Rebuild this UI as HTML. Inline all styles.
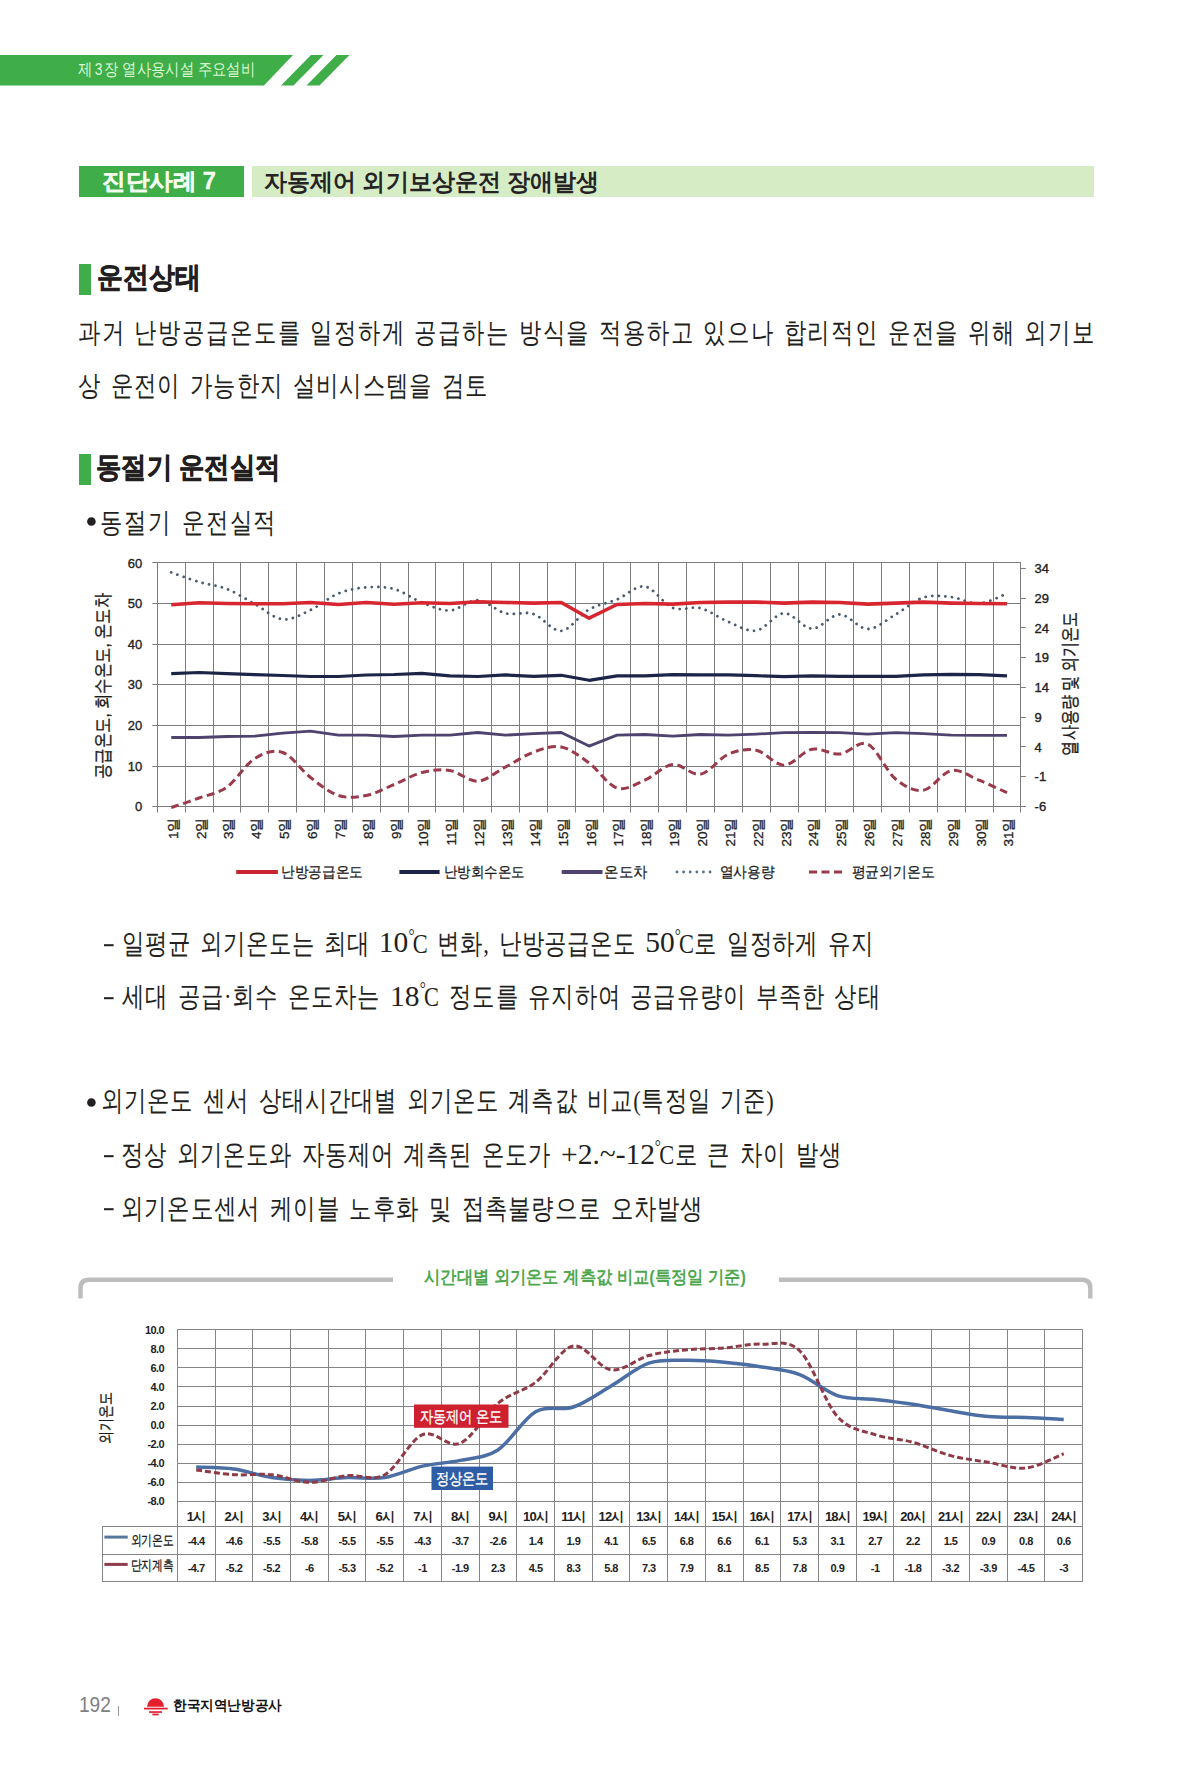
<!DOCTYPE html>
<html><head><meta charset="utf-8">
<style>
html,body{margin:0;padding:0;background:#fff;}
body{width:1197px;height:1772px;position:relative;overflow:hidden;font-family:"Liberation Sans",sans-serif;color:#231f20;}
.a{position:absolute;white-space:nowrap;line-height:1;}
.hb{position:absolute;background:#3fae49;}
</style></head><body>
<svg style="position:absolute;left:0;top:0" width="400" height="100">
<polygon points="0,55 293,55 264,85.5 0,85.5" fill="#3fae49"/>
<polygon points="311,55 323.5,55 293.5,85.5 281,85.5" fill="#3fae49"/>
<polygon points="336.5,55 349.5,55 319.5,85.5 306.5,85.5" fill="#3fae49"/>
</svg>
<div class="hb" style="left:79px;top:166px;width:165px;height:31px;"></div>
<div class="hb" style="left:252px;top:166px;width:842px;height:31px;background:#d5ecc5;"></div>
<div class="hb" style="left:79px;top:263.5px;width:12px;height:31px;"></div>
<div class="hb" style="left:79px;top:454px;width:12px;height:31px;"></div>
<svg style="position:absolute;left:0;top:0" width="1197" height="900" viewBox="0 0 1197 900">
<line x1="152.3" y1="806.5" x2="1020.9" y2="806.5" stroke="#7c7c7c" stroke-width="1"/>
<line x1="152.3" y1="766.5" x2="1020.9" y2="766.5" stroke="#7c7c7c" stroke-width="1"/>
<line x1="152.3" y1="725.5" x2="1020.9" y2="725.5" stroke="#7c7c7c" stroke-width="1"/>
<line x1="152.3" y1="684.5" x2="1020.9" y2="684.5" stroke="#7c7c7c" stroke-width="1"/>
<line x1="152.3" y1="644.5" x2="1020.9" y2="644.5" stroke="#7c7c7c" stroke-width="1"/>
<line x1="152.3" y1="603.5" x2="1020.9" y2="603.5" stroke="#7c7c7c" stroke-width="1"/>
<line x1="152.3" y1="562.5" x2="1020.9" y2="562.5" stroke="#7c7c7c" stroke-width="1"/>
<line x1="157.5" y1="562.5" x2="157.5" y2="812.5" stroke="#7c7c7c" stroke-width="1"/>
<line x1="185.5" y1="562.5" x2="185.5" y2="812.5" stroke="#7c7c7c" stroke-width="1"/>
<line x1="213.5" y1="562.5" x2="213.5" y2="812.5" stroke="#7c7c7c" stroke-width="1"/>
<line x1="240.5" y1="562.5" x2="240.5" y2="812.5" stroke="#7c7c7c" stroke-width="1"/>
<line x1="268.5" y1="562.5" x2="268.5" y2="812.5" stroke="#7c7c7c" stroke-width="1"/>
<line x1="296.5" y1="562.5" x2="296.5" y2="812.5" stroke="#7c7c7c" stroke-width="1"/>
<line x1="324.5" y1="562.5" x2="324.5" y2="812.5" stroke="#7c7c7c" stroke-width="1"/>
<line x1="352.5" y1="562.5" x2="352.5" y2="812.5" stroke="#7c7c7c" stroke-width="1"/>
<line x1="380.5" y1="562.5" x2="380.5" y2="812.5" stroke="#7c7c7c" stroke-width="1"/>
<line x1="408.5" y1="562.5" x2="408.5" y2="812.5" stroke="#7c7c7c" stroke-width="1"/>
<line x1="435.5" y1="562.5" x2="435.5" y2="812.5" stroke="#7c7c7c" stroke-width="1"/>
<line x1="463.5" y1="562.5" x2="463.5" y2="812.5" stroke="#7c7c7c" stroke-width="1"/>
<line x1="491.5" y1="562.5" x2="491.5" y2="812.5" stroke="#7c7c7c" stroke-width="1"/>
<line x1="519.5" y1="562.5" x2="519.5" y2="812.5" stroke="#7c7c7c" stroke-width="1"/>
<line x1="547.5" y1="562.5" x2="547.5" y2="812.5" stroke="#7c7c7c" stroke-width="1"/>
<line x1="575.5" y1="562.5" x2="575.5" y2="812.5" stroke="#7c7c7c" stroke-width="1"/>
<line x1="603.5" y1="562.5" x2="603.5" y2="812.5" stroke="#7c7c7c" stroke-width="1"/>
<line x1="630.5" y1="562.5" x2="630.5" y2="812.5" stroke="#7c7c7c" stroke-width="1"/>
<line x1="658.5" y1="562.5" x2="658.5" y2="812.5" stroke="#7c7c7c" stroke-width="1"/>
<line x1="686.5" y1="562.5" x2="686.5" y2="812.5" stroke="#7c7c7c" stroke-width="1"/>
<line x1="714.5" y1="562.5" x2="714.5" y2="812.5" stroke="#7c7c7c" stroke-width="1"/>
<line x1="742.5" y1="562.5" x2="742.5" y2="812.5" stroke="#7c7c7c" stroke-width="1"/>
<line x1="770.5" y1="562.5" x2="770.5" y2="812.5" stroke="#7c7c7c" stroke-width="1"/>
<line x1="798.5" y1="562.5" x2="798.5" y2="812.5" stroke="#7c7c7c" stroke-width="1"/>
<line x1="825.5" y1="562.5" x2="825.5" y2="812.5" stroke="#7c7c7c" stroke-width="1"/>
<line x1="853.5" y1="562.5" x2="853.5" y2="812.5" stroke="#7c7c7c" stroke-width="1"/>
<line x1="881.5" y1="562.5" x2="881.5" y2="812.5" stroke="#7c7c7c" stroke-width="1"/>
<line x1="909.5" y1="562.5" x2="909.5" y2="812.5" stroke="#7c7c7c" stroke-width="1"/>
<line x1="937.5" y1="562.5" x2="937.5" y2="812.5" stroke="#7c7c7c" stroke-width="1"/>
<line x1="965.5" y1="562.5" x2="965.5" y2="812.5" stroke="#7c7c7c" stroke-width="1"/>
<line x1="993.5" y1="562.5" x2="993.5" y2="812.5" stroke="#7c7c7c" stroke-width="1"/>
<line x1="1020.5" y1="562.5" x2="1020.5" y2="812.5" stroke="#7c7c7c" stroke-width="1"/>
<line x1="1020.5" y1="806.5" x2="1025.9" y2="806.5" stroke="#7c7c7c" stroke-width="1"/>
<line x1="1020.5" y1="776.5" x2="1025.9" y2="776.5" stroke="#7c7c7c" stroke-width="1"/>
<line x1="1020.5" y1="746.5" x2="1025.9" y2="746.5" stroke="#7c7c7c" stroke-width="1"/>
<line x1="1020.5" y1="717.5" x2="1025.9" y2="717.5" stroke="#7c7c7c" stroke-width="1"/>
<line x1="1020.5" y1="687.5" x2="1025.9" y2="687.5" stroke="#7c7c7c" stroke-width="1"/>
<line x1="1020.5" y1="657.5" x2="1025.9" y2="657.5" stroke="#7c7c7c" stroke-width="1"/>
<line x1="1020.5" y1="627.5" x2="1025.9" y2="627.5" stroke="#7c7c7c" stroke-width="1"/>
<line x1="1020.5" y1="598.5" x2="1025.9" y2="598.5" stroke="#7c7c7c" stroke-width="1"/>
<line x1="1020.5" y1="568.5" x2="1025.9" y2="568.5" stroke="#7c7c7c" stroke-width="1"/>
<text x="142.2" y="811.3" text-anchor="end" font-family="Liberation Sans" font-size="13" fill="#222" stroke="#222" stroke-width="0.35">0</text>
<text x="142.2" y="770.68" text-anchor="end" font-family="Liberation Sans" font-size="13" fill="#222" stroke="#222" stroke-width="0.35">10</text>
<text x="142.2" y="730.06" text-anchor="end" font-family="Liberation Sans" font-size="13" fill="#222" stroke="#222" stroke-width="0.35">20</text>
<text x="142.2" y="689.44" text-anchor="end" font-family="Liberation Sans" font-size="13" fill="#222" stroke="#222" stroke-width="0.35">30</text>
<text x="142.2" y="648.82" text-anchor="end" font-family="Liberation Sans" font-size="13" fill="#222" stroke="#222" stroke-width="0.35">40</text>
<text x="142.2" y="608.2" text-anchor="end" font-family="Liberation Sans" font-size="13" fill="#222" stroke="#222" stroke-width="0.35">50</text>
<text x="142.2" y="567.58" text-anchor="end" font-family="Liberation Sans" font-size="13" fill="#222" stroke="#222" stroke-width="0.35">60</text>
<text x="1034.6" y="811" font-family="Liberation Sans" font-size="13" fill="#222" stroke="#222" stroke-width="0.35">-6</text>
<text x="1034.6" y="781.26" font-family="Liberation Sans" font-size="13" fill="#222" stroke="#222" stroke-width="0.35">-1</text>
<text x="1034.6" y="751.52" font-family="Liberation Sans" font-size="13" fill="#222" stroke="#222" stroke-width="0.35">4</text>
<text x="1034.6" y="721.78" font-family="Liberation Sans" font-size="13" fill="#222" stroke="#222" stroke-width="0.35">9</text>
<text x="1034.6" y="692.04" font-family="Liberation Sans" font-size="13" fill="#222" stroke="#222" stroke-width="0.35">14</text>
<text x="1034.6" y="662.3" font-family="Liberation Sans" font-size="13" fill="#222" stroke="#222" stroke-width="0.35">19</text>
<text x="1034.6" y="632.56" font-family="Liberation Sans" font-size="13" fill="#222" stroke="#222" stroke-width="0.35">24</text>
<text x="1034.6" y="602.82" font-family="Liberation Sans" font-size="13" fill="#222" stroke="#222" stroke-width="0.35">29</text>
<text x="1034.6" y="573.08" font-family="Liberation Sans" font-size="13" fill="#222" stroke="#222" stroke-width="0.35">34</text>
<text transform="translate(177.73,817.5) rotate(-90)" text-anchor="end" font-family="Liberation Sans" font-size="13.5" fill="#222" stroke="#222" stroke-width="0.3">1일</text>
<text transform="translate(205.59,817.5) rotate(-90)" text-anchor="end" font-family="Liberation Sans" font-size="13.5" fill="#222" stroke="#222" stroke-width="0.3">2일</text>
<text transform="translate(233.45,817.5) rotate(-90)" text-anchor="end" font-family="Liberation Sans" font-size="13.5" fill="#222" stroke="#222" stroke-width="0.3">3일</text>
<text transform="translate(261.3,817.5) rotate(-90)" text-anchor="end" font-family="Liberation Sans" font-size="13.5" fill="#222" stroke="#222" stroke-width="0.3">4일</text>
<text transform="translate(289.16,817.5) rotate(-90)" text-anchor="end" font-family="Liberation Sans" font-size="13.5" fill="#222" stroke="#222" stroke-width="0.3">5일</text>
<text transform="translate(317.02,817.5) rotate(-90)" text-anchor="end" font-family="Liberation Sans" font-size="13.5" fill="#222" stroke="#222" stroke-width="0.3">6일</text>
<text transform="translate(344.88,817.5) rotate(-90)" text-anchor="end" font-family="Liberation Sans" font-size="13.5" fill="#222" stroke="#222" stroke-width="0.3">7일</text>
<text transform="translate(372.74,817.5) rotate(-90)" text-anchor="end" font-family="Liberation Sans" font-size="13.5" fill="#222" stroke="#222" stroke-width="0.3">8일</text>
<text transform="translate(400.59,817.5) rotate(-90)" text-anchor="end" font-family="Liberation Sans" font-size="13.5" fill="#222" stroke="#222" stroke-width="0.3">9일</text>
<text transform="translate(428.45,817.5) rotate(-90)" text-anchor="end" font-family="Liberation Sans" font-size="13.5" fill="#222" stroke="#222" stroke-width="0.3">10일</text>
<text transform="translate(456.31,817.5) rotate(-90)" text-anchor="end" font-family="Liberation Sans" font-size="13.5" fill="#222" stroke="#222" stroke-width="0.3">11일</text>
<text transform="translate(484.17,817.5) rotate(-90)" text-anchor="end" font-family="Liberation Sans" font-size="13.5" fill="#222" stroke="#222" stroke-width="0.3">12일</text>
<text transform="translate(512.03,817.5) rotate(-90)" text-anchor="end" font-family="Liberation Sans" font-size="13.5" fill="#222" stroke="#222" stroke-width="0.3">13일</text>
<text transform="translate(539.88,817.5) rotate(-90)" text-anchor="end" font-family="Liberation Sans" font-size="13.5" fill="#222" stroke="#222" stroke-width="0.3">14일</text>
<text transform="translate(567.74,817.5) rotate(-90)" text-anchor="end" font-family="Liberation Sans" font-size="13.5" fill="#222" stroke="#222" stroke-width="0.3">15일</text>
<text transform="translate(595.6,817.5) rotate(-90)" text-anchor="end" font-family="Liberation Sans" font-size="13.5" fill="#222" stroke="#222" stroke-width="0.3">16일</text>
<text transform="translate(623.46,817.5) rotate(-90)" text-anchor="end" font-family="Liberation Sans" font-size="13.5" fill="#222" stroke="#222" stroke-width="0.3">17일</text>
<text transform="translate(651.32,817.5) rotate(-90)" text-anchor="end" font-family="Liberation Sans" font-size="13.5" fill="#222" stroke="#222" stroke-width="0.3">18일</text>
<text transform="translate(679.17,817.5) rotate(-90)" text-anchor="end" font-family="Liberation Sans" font-size="13.5" fill="#222" stroke="#222" stroke-width="0.3">19일</text>
<text transform="translate(707.03,817.5) rotate(-90)" text-anchor="end" font-family="Liberation Sans" font-size="13.5" fill="#222" stroke="#222" stroke-width="0.3">20일</text>
<text transform="translate(734.89,817.5) rotate(-90)" text-anchor="end" font-family="Liberation Sans" font-size="13.5" fill="#222" stroke="#222" stroke-width="0.3">21일</text>
<text transform="translate(762.75,817.5) rotate(-90)" text-anchor="end" font-family="Liberation Sans" font-size="13.5" fill="#222" stroke="#222" stroke-width="0.3">22일</text>
<text transform="translate(790.61,817.5) rotate(-90)" text-anchor="end" font-family="Liberation Sans" font-size="13.5" fill="#222" stroke="#222" stroke-width="0.3">23일</text>
<text transform="translate(818.46,817.5) rotate(-90)" text-anchor="end" font-family="Liberation Sans" font-size="13.5" fill="#222" stroke="#222" stroke-width="0.3">24일</text>
<text transform="translate(846.32,817.5) rotate(-90)" text-anchor="end" font-family="Liberation Sans" font-size="13.5" fill="#222" stroke="#222" stroke-width="0.3">25일</text>
<text transform="translate(874.18,817.5) rotate(-90)" text-anchor="end" font-family="Liberation Sans" font-size="13.5" fill="#222" stroke="#222" stroke-width="0.3">26일</text>
<text transform="translate(902.04,817.5) rotate(-90)" text-anchor="end" font-family="Liberation Sans" font-size="13.5" fill="#222" stroke="#222" stroke-width="0.3">27일</text>
<text transform="translate(929.9,817.5) rotate(-90)" text-anchor="end" font-family="Liberation Sans" font-size="13.5" fill="#222" stroke="#222" stroke-width="0.3">28일</text>
<text transform="translate(957.75,817.5) rotate(-90)" text-anchor="end" font-family="Liberation Sans" font-size="13.5" fill="#222" stroke="#222" stroke-width="0.3">29일</text>
<text transform="translate(985.61,817.5) rotate(-90)" text-anchor="end" font-family="Liberation Sans" font-size="13.5" fill="#222" stroke="#222" stroke-width="0.3">30일</text>
<text transform="translate(1013.47,817.5) rotate(-90)" text-anchor="end" font-family="Liberation Sans" font-size="13.5" fill="#222" stroke="#222" stroke-width="0.3">31일</text>
<text transform="translate(109,686) rotate(-90)" text-anchor="middle" font-family="Liberation Sans" font-size="19" fill="#1a1a1a" stroke="#1a1a1a" stroke-width="0.3" textLength="186" lengthAdjust="spacingAndGlyphs">공급온도, 회수온도, 온도차</text>
<text transform="translate(1076,683.5) rotate(-90)" text-anchor="middle" font-family="Liberation Sans" font-size="19" fill="#1a1a1a" stroke="#1a1a1a" stroke-width="0.3" textLength="144" lengthAdjust="spacingAndGlyphs">열사용량 및 외기온도</text>
<path d="M171.23,807.5 C175.87,805.92 189.8,801.42 199.09,798 C208.37,794.58 217.66,793.58 226.95,787 C236.23,780.42 245.52,764.25 254.8,758.5 C264.09,752.75 273.38,749.33 282.66,752.5 C291.95,755.67 301.23,770.33 310.52,777.5 C319.81,784.67 329.09,792.5 338.38,795.5 C347.66,798.5 356.95,797.33 366.24,795.5 C375.52,793.67 384.81,788.33 394.09,784.5 C403.38,780.67 412.67,774.83 421.95,772.5 C431.24,770.17 440.52,769.05 449.81,770.5 C459.1,771.95 468.38,781.78 477.67,781.2 C486.95,780.62 496.24,771.83 505.53,767 C514.81,762.17 524.1,755.53 533.38,752.2 C542.67,748.87 551.96,745.2 561.24,747 C570.53,748.8 579.81,756.17 589.1,763 C598.39,769.83 607.67,785.13 616.96,788 C626.24,790.87 635.53,784.12 644.82,780.2 C654.1,776.28 663.39,765.5 672.67,764.5 C681.96,763.5 691.25,775.92 700.53,774.2 C709.82,772.48 719.1,758.2 728.39,754.2 C737.68,750.2 746.96,748.37 756.25,750.2 C765.53,752.03 774.82,765.37 784.11,765.2 C793.39,765.03 802.68,751.07 811.96,749.2 C821.25,747.33 830.54,754.85 839.82,754 C849.11,753.15 858.39,739.93 867.68,744.1 C876.97,748.27 886.25,771.3 895.54,779 C904.82,786.7 914.11,791.7 923.4,790.3 C932.68,788.9 941.97,772.28 951.25,770.6 C960.54,768.92 969.83,776.52 979.11,780.2 C988.4,783.88 1002.33,790.62 1006.97,792.7" fill="none" stroke="#9a3a4b" stroke-width="3" stroke-dasharray="8 4.5" stroke-linecap="butt"/>
<path d="M171.23,572.4 C175.87,574 189.8,579.23 199.09,582 C208.37,584.77 217.66,585.33 226.95,589 C236.23,592.67 245.52,598.95 254.8,604 C264.09,609.05 273.38,618.3 282.66,619.3 C291.95,620.3 301.23,614.3 310.52,610 C319.81,605.7 329.09,597.27 338.38,593.5 C347.66,589.73 356.95,588.15 366.24,587.4 C375.52,586.65 384.81,586.48 394.09,589 C403.38,591.52 412.67,598.92 421.95,602.5 C431.24,606.08 440.52,610.88 449.81,610.5 C459.1,610.12 468.38,599.73 477.67,600.2 C486.95,600.67 496.24,611 505.53,613.3 C514.81,615.6 524.1,611.08 533.38,614 C542.67,616.92 551.96,631.55 561.24,630.8 C570.53,630.05 579.81,614.72 589.1,609.5 C598.39,604.28 607.67,603.33 616.96,599.5 C626.24,595.67 635.53,585.12 644.82,586.5 C654.1,587.88 663.39,604.18 672.67,607.8 C681.96,611.42 691.25,605.87 700.53,608.2 C709.82,610.53 719.1,618.07 728.39,621.8 C737.68,625.53 746.96,632.02 756.25,630.6 C765.53,629.18 774.82,613.63 784.11,613.3 C793.39,612.97 802.68,628.4 811.96,628.6 C821.25,628.8 830.54,614.43 839.82,614.5 C849.11,614.57 858.39,629 867.68,629 C876.97,629 886.25,619.75 895.54,614.5 C904.82,609.25 914.11,600.4 923.4,597.5 C932.68,594.6 941.97,596.1 951.25,597.1 C960.54,598.1 969.83,604.1 979.11,603.5 C988.4,602.9 1002.33,595.17 1006.97,593.5" fill="none" stroke="#4a5b70" stroke-width="2.8" stroke-dasharray="0.01 6.6" stroke-linecap="round"/>
<path d="M171.23,737.5 L199.09,737.5 L226.95,736.5 L254.8,736.1 L282.66,733.1 L310.52,731.1 L338.38,735.1 L366.24,735.1 L394.09,736.5 L421.95,735.1 L449.81,735.1 L477.67,732.5 L505.53,735.1 L533.38,733.7 L561.24,732.5 L589.1,746.1 L616.96,735.1 L644.82,734.5 L672.67,736.1 L700.53,734.5 L728.39,735.1 L756.25,734.1 L784.11,732.7 L811.96,732.5 L839.82,732.7 L867.68,734.1 L895.54,732.7 L923.4,733.7 L951.25,735.1 L979.11,735.3 L1006.97,735.3" fill="none" stroke="#4e436e" stroke-width="2.8" stroke-linejoin="round"/>
<path d="M171.23,673.7 L199.09,672.5 L226.95,673.7 L254.8,674.7 L282.66,675.5 L310.52,676.5 L338.38,676.5 L366.24,675 L394.09,674.5 L421.95,673.3 L449.81,675.9 L477.67,676.5 L505.53,674.9 L533.38,676.3 L561.24,675.3 L589.1,680.3 L616.96,675.9 L644.82,675.9 L672.67,674.7 L700.53,674.9 L728.39,674.9 L756.25,675.7 L784.11,676.7 L811.96,675.9 L839.82,676.4 L867.68,676.3 L895.54,676.3 L923.4,674.9 L951.25,674.3 L979.11,674.7 L1006.97,675.9" fill="none" stroke="#1c2547" stroke-width="3.2" stroke-linejoin="round"/>
<path d="M171.23,604.7 L199.09,602.7 L226.95,603.5 L254.8,603.7 L282.66,603.7 L310.52,602.5 L338.38,604.5 L366.24,602.5 L394.09,604.3 L421.95,602.7 L449.81,603.5 L477.67,601.8 L505.53,602.5 L533.38,603.1 L561.24,602.5 L589.1,618.2 L616.96,604.5 L644.82,603.5 L672.67,604.1 L700.53,602.5 L728.39,602.1 L756.25,602.1 L784.11,603.1 L811.96,602.1 L839.82,602.5 L867.68,604.1 L895.54,603.1 L923.4,602.1 L951.25,603.1 L979.11,603.5 L1006.97,603.7" fill="none" stroke="#d7262f" stroke-width="3.6" stroke-linejoin="round"/>
<line x1="236.2" y1="872" x2="277.9" y2="872" stroke="#c8262f" stroke-width="4.2"/>
<line x1="399.4" y1="872" x2="439.6" y2="872" stroke="#1c2547" stroke-width="4"/>
<line x1="561.7" y1="872" x2="602.5" y2="872" stroke="#4e436e" stroke-width="3.8"/>
<line x1="677" y1="872" x2="715.4" y2="872" stroke="#5a6e84" stroke-width="2.8" stroke-dasharray="0.01 6.6" stroke-linecap="round"/>
<line x1="809" y1="872" x2="845.8" y2="872" stroke="#9a3a4b" stroke-width="3" stroke-dasharray="8 4.5"/>
<text x="281.1" y="877.3" font-family="Liberation Sans" font-size="14.5" fill="#1a1a1a" stroke="#1a1a1a" stroke-width="0.25" textLength="81.8" lengthAdjust="spacingAndGlyphs">난방공급온도</text>
<text x="444" y="877.3" font-family="Liberation Sans" font-size="14.5" fill="#1a1a1a" stroke="#1a1a1a" stroke-width="0.25" textLength="80.9" lengthAdjust="spacingAndGlyphs">난방회수온도</text>
<text x="604.3" y="877.3" font-family="Liberation Sans" font-size="14.5" fill="#1a1a1a" stroke="#1a1a1a" stroke-width="0.25" textLength="43.2" lengthAdjust="spacingAndGlyphs">온도차</text>
<text x="719.6" y="877.3" font-family="Liberation Sans" font-size="14.5" fill="#1a1a1a" stroke="#1a1a1a" stroke-width="0.25" textLength="54.9" lengthAdjust="spacingAndGlyphs">열사용량</text>
<text x="851.6" y="877.3" font-family="Liberation Sans" font-size="14.5" fill="#1a1a1a" stroke="#1a1a1a" stroke-width="0.25" textLength="83.3" lengthAdjust="spacingAndGlyphs">평균외기온도</text>
</svg>
<svg style="position:absolute;left:0;top:1250px" width="1197" height="350" viewBox="0 1250 1197 350">
<path d="M80.5,1298.6 V1288 Q80.5,1279.7 89,1279.7 H393" fill="none" stroke="#bdbdbd" stroke-width="4.4"/>
<path d="M779,1279.7 H1082 Q1090.3,1279.7 1090.3,1288 V1298.6" fill="none" stroke="#bdbdbd" stroke-width="4.4"/>
<line x1="177.3" y1="1329.5" x2="1082.6" y2="1329.5" stroke="#858585" stroke-width="1"/>
<line x1="177.3" y1="1348.5" x2="1082.6" y2="1348.5" stroke="#858585" stroke-width="1"/>
<line x1="177.3" y1="1367.5" x2="1082.6" y2="1367.5" stroke="#858585" stroke-width="1"/>
<line x1="177.3" y1="1386.5" x2="1082.6" y2="1386.5" stroke="#858585" stroke-width="1"/>
<line x1="177.3" y1="1406.5" x2="1082.6" y2="1406.5" stroke="#858585" stroke-width="1"/>
<line x1="177.3" y1="1425.5" x2="1082.6" y2="1425.5" stroke="#858585" stroke-width="1"/>
<line x1="177.3" y1="1444.5" x2="1082.6" y2="1444.5" stroke="#858585" stroke-width="1"/>
<line x1="177.3" y1="1463.5" x2="1082.6" y2="1463.5" stroke="#858585" stroke-width="1"/>
<line x1="177.3" y1="1482.5" x2="1082.6" y2="1482.5" stroke="#858585" stroke-width="1"/>
<line x1="177.3" y1="1501.5" x2="1082.6" y2="1501.5" stroke="#858585" stroke-width="1"/>
<line x1="177.5" y1="1329.5" x2="177.5" y2="1581.5" stroke="#858585" stroke-width="1"/>
<line x1="215.5" y1="1329.5" x2="215.5" y2="1581.5" stroke="#858585" stroke-width="1"/>
<line x1="252.5" y1="1329.5" x2="252.5" y2="1581.5" stroke="#858585" stroke-width="1"/>
<line x1="290.5" y1="1329.5" x2="290.5" y2="1581.5" stroke="#858585" stroke-width="1"/>
<line x1="328.5" y1="1329.5" x2="328.5" y2="1581.5" stroke="#858585" stroke-width="1"/>
<line x1="365.5" y1="1329.5" x2="365.5" y2="1581.5" stroke="#858585" stroke-width="1"/>
<line x1="403.5" y1="1329.5" x2="403.5" y2="1581.5" stroke="#858585" stroke-width="1"/>
<line x1="441.5" y1="1329.5" x2="441.5" y2="1581.5" stroke="#858585" stroke-width="1"/>
<line x1="479.5" y1="1329.5" x2="479.5" y2="1581.5" stroke="#858585" stroke-width="1"/>
<line x1="516.5" y1="1329.5" x2="516.5" y2="1581.5" stroke="#858585" stroke-width="1"/>
<line x1="554.5" y1="1329.5" x2="554.5" y2="1581.5" stroke="#858585" stroke-width="1"/>
<line x1="592.5" y1="1329.5" x2="592.5" y2="1581.5" stroke="#858585" stroke-width="1"/>
<line x1="629.5" y1="1329.5" x2="629.5" y2="1581.5" stroke="#858585" stroke-width="1"/>
<line x1="667.5" y1="1329.5" x2="667.5" y2="1581.5" stroke="#858585" stroke-width="1"/>
<line x1="705.5" y1="1329.5" x2="705.5" y2="1581.5" stroke="#858585" stroke-width="1"/>
<line x1="743.5" y1="1329.5" x2="743.5" y2="1581.5" stroke="#858585" stroke-width="1"/>
<line x1="780.5" y1="1329.5" x2="780.5" y2="1581.5" stroke="#858585" stroke-width="1"/>
<line x1="818.5" y1="1329.5" x2="818.5" y2="1581.5" stroke="#858585" stroke-width="1"/>
<line x1="856.5" y1="1329.5" x2="856.5" y2="1581.5" stroke="#858585" stroke-width="1"/>
<line x1="893.5" y1="1329.5" x2="893.5" y2="1581.5" stroke="#858585" stroke-width="1"/>
<line x1="931.5" y1="1329.5" x2="931.5" y2="1581.5" stroke="#858585" stroke-width="1"/>
<line x1="969.5" y1="1329.5" x2="969.5" y2="1581.5" stroke="#858585" stroke-width="1"/>
<line x1="1007.5" y1="1329.5" x2="1007.5" y2="1581.5" stroke="#858585" stroke-width="1"/>
<line x1="1044.5" y1="1329.5" x2="1044.5" y2="1581.5" stroke="#858585" stroke-width="1"/>
<line x1="1082.5" y1="1329.5" x2="1082.5" y2="1581.5" stroke="#858585" stroke-width="1"/>
<line x1="102" y1="1526.5" x2="1083" y2="1526.5" stroke="#858585" stroke-width="1"/>
<line x1="102" y1="1554.5" x2="1083" y2="1554.5" stroke="#858585" stroke-width="1"/>
<line x1="102" y1="1581.5" x2="1083" y2="1581.5" stroke="#858585" stroke-width="1"/>
<line x1="102.5" y1="1526.5" x2="102.5" y2="1581.5" stroke="#858585" stroke-width="1"/>
<text x="164" y="1333.8" text-anchor="end" font-family="Liberation Sans" font-weight="bold" font-size="11" fill="#222" letter-spacing="-0.6">10.0</text>
<text x="164" y="1352.87" text-anchor="end" font-family="Liberation Sans" font-weight="bold" font-size="11" fill="#222" letter-spacing="-0.6">8.0</text>
<text x="164" y="1371.93" text-anchor="end" font-family="Liberation Sans" font-weight="bold" font-size="11" fill="#222" letter-spacing="-0.6">6.0</text>
<text x="164" y="1391" text-anchor="end" font-family="Liberation Sans" font-weight="bold" font-size="11" fill="#222" letter-spacing="-0.6">4.0</text>
<text x="164" y="1410.06" text-anchor="end" font-family="Liberation Sans" font-weight="bold" font-size="11" fill="#222" letter-spacing="-0.6">2.0</text>
<text x="164" y="1429.13" text-anchor="end" font-family="Liberation Sans" font-weight="bold" font-size="11" fill="#222" letter-spacing="-0.6">0.0</text>
<text x="164" y="1448.2" text-anchor="end" font-family="Liberation Sans" font-weight="bold" font-size="11" fill="#222" letter-spacing="-0.6">-2.0</text>
<text x="164" y="1467.26" text-anchor="end" font-family="Liberation Sans" font-weight="bold" font-size="11" fill="#222" letter-spacing="-0.6">-4.0</text>
<text x="164" y="1486.33" text-anchor="end" font-family="Liberation Sans" font-weight="bold" font-size="11" fill="#222" letter-spacing="-0.6">-6.0</text>
<text x="164" y="1505.39" text-anchor="end" font-family="Liberation Sans" font-weight="bold" font-size="11" fill="#222" letter-spacing="-0.6">-8.0</text>
<text transform="translate(111,1418) rotate(-90)" text-anchor="middle" font-family="Liberation Sans" font-size="15.5" fill="#1a1a1a" stroke="#1a1a1a" stroke-width="0.3" textLength="52" lengthAdjust="spacingAndGlyphs">외기온도</text>
<text x="196.16" y="1520.5" text-anchor="middle" font-family="Liberation Sans" font-weight="bold" font-size="13" fill="#222" letter-spacing="-0.8">1시</text>
<text x="233.88" y="1520.5" text-anchor="middle" font-family="Liberation Sans" font-weight="bold" font-size="13" fill="#222" letter-spacing="-0.8">2시</text>
<text x="271.6" y="1520.5" text-anchor="middle" font-family="Liberation Sans" font-weight="bold" font-size="13" fill="#222" letter-spacing="-0.8">3시</text>
<text x="309.32" y="1520.5" text-anchor="middle" font-family="Liberation Sans" font-weight="bold" font-size="13" fill="#222" letter-spacing="-0.8">4시</text>
<text x="347.04" y="1520.5" text-anchor="middle" font-family="Liberation Sans" font-weight="bold" font-size="13" fill="#222" letter-spacing="-0.8">5시</text>
<text x="384.76" y="1520.5" text-anchor="middle" font-family="Liberation Sans" font-weight="bold" font-size="13" fill="#222" letter-spacing="-0.8">6시</text>
<text x="422.49" y="1520.5" text-anchor="middle" font-family="Liberation Sans" font-weight="bold" font-size="13" fill="#222" letter-spacing="-0.8">7시</text>
<text x="460.21" y="1520.5" text-anchor="middle" font-family="Liberation Sans" font-weight="bold" font-size="13" fill="#222" letter-spacing="-0.8">8시</text>
<text x="497.93" y="1520.5" text-anchor="middle" font-family="Liberation Sans" font-weight="bold" font-size="13" fill="#222" letter-spacing="-0.8">9시</text>
<text x="535.65" y="1520.5" text-anchor="middle" font-family="Liberation Sans" font-weight="bold" font-size="13" fill="#222" letter-spacing="-0.8">10시</text>
<text x="573.37" y="1520.5" text-anchor="middle" font-family="Liberation Sans" font-weight="bold" font-size="13" fill="#222" letter-spacing="-0.8">11시</text>
<text x="611.09" y="1520.5" text-anchor="middle" font-family="Liberation Sans" font-weight="bold" font-size="13" fill="#222" letter-spacing="-0.8">12시</text>
<text x="648.81" y="1520.5" text-anchor="middle" font-family="Liberation Sans" font-weight="bold" font-size="13" fill="#222" letter-spacing="-0.8">13시</text>
<text x="686.53" y="1520.5" text-anchor="middle" font-family="Liberation Sans" font-weight="bold" font-size="13" fill="#222" letter-spacing="-0.8">14시</text>
<text x="724.25" y="1520.5" text-anchor="middle" font-family="Liberation Sans" font-weight="bold" font-size="13" fill="#222" letter-spacing="-0.8">15시</text>
<text x="761.97" y="1520.5" text-anchor="middle" font-family="Liberation Sans" font-weight="bold" font-size="13" fill="#222" letter-spacing="-0.8">16시</text>
<text x="799.69" y="1520.5" text-anchor="middle" font-family="Liberation Sans" font-weight="bold" font-size="13" fill="#222" letter-spacing="-0.8">17시</text>
<text x="837.41" y="1520.5" text-anchor="middle" font-family="Liberation Sans" font-weight="bold" font-size="13" fill="#222" letter-spacing="-0.8">18시</text>
<text x="875.14" y="1520.5" text-anchor="middle" font-family="Liberation Sans" font-weight="bold" font-size="13" fill="#222" letter-spacing="-0.8">19시</text>
<text x="912.86" y="1520.5" text-anchor="middle" font-family="Liberation Sans" font-weight="bold" font-size="13" fill="#222" letter-spacing="-0.8">20시</text>
<text x="950.58" y="1520.5" text-anchor="middle" font-family="Liberation Sans" font-weight="bold" font-size="13" fill="#222" letter-spacing="-0.8">21시</text>
<text x="988.3" y="1520.5" text-anchor="middle" font-family="Liberation Sans" font-weight="bold" font-size="13" fill="#222" letter-spacing="-0.8">22시</text>
<text x="1026.02" y="1520.5" text-anchor="middle" font-family="Liberation Sans" font-weight="bold" font-size="13" fill="#222" letter-spacing="-0.8">23시</text>
<text x="1063.74" y="1520.5" text-anchor="middle" font-family="Liberation Sans" font-weight="bold" font-size="13" fill="#222" letter-spacing="-0.8">24시</text>
<text x="196.16" y="1545" text-anchor="middle" font-family="Liberation Sans" font-weight="bold" font-size="11" fill="#222" letter-spacing="-0.5">-4.4</text>
<text x="196.16" y="1572" text-anchor="middle" font-family="Liberation Sans" font-weight="bold" font-size="11" fill="#222" letter-spacing="-0.5">-4.7</text>
<text x="233.88" y="1545" text-anchor="middle" font-family="Liberation Sans" font-weight="bold" font-size="11" fill="#222" letter-spacing="-0.5">-4.6</text>
<text x="233.88" y="1572" text-anchor="middle" font-family="Liberation Sans" font-weight="bold" font-size="11" fill="#222" letter-spacing="-0.5">-5.2</text>
<text x="271.6" y="1545" text-anchor="middle" font-family="Liberation Sans" font-weight="bold" font-size="11" fill="#222" letter-spacing="-0.5">-5.5</text>
<text x="271.6" y="1572" text-anchor="middle" font-family="Liberation Sans" font-weight="bold" font-size="11" fill="#222" letter-spacing="-0.5">-5.2</text>
<text x="309.32" y="1545" text-anchor="middle" font-family="Liberation Sans" font-weight="bold" font-size="11" fill="#222" letter-spacing="-0.5">-5.8</text>
<text x="309.32" y="1572" text-anchor="middle" font-family="Liberation Sans" font-weight="bold" font-size="11" fill="#222" letter-spacing="-0.5">-6</text>
<text x="347.04" y="1545" text-anchor="middle" font-family="Liberation Sans" font-weight="bold" font-size="11" fill="#222" letter-spacing="-0.5">-5.5</text>
<text x="347.04" y="1572" text-anchor="middle" font-family="Liberation Sans" font-weight="bold" font-size="11" fill="#222" letter-spacing="-0.5">-5.3</text>
<text x="384.76" y="1545" text-anchor="middle" font-family="Liberation Sans" font-weight="bold" font-size="11" fill="#222" letter-spacing="-0.5">-5.5</text>
<text x="384.76" y="1572" text-anchor="middle" font-family="Liberation Sans" font-weight="bold" font-size="11" fill="#222" letter-spacing="-0.5">-5.2</text>
<text x="422.49" y="1545" text-anchor="middle" font-family="Liberation Sans" font-weight="bold" font-size="11" fill="#222" letter-spacing="-0.5">-4.3</text>
<text x="422.49" y="1572" text-anchor="middle" font-family="Liberation Sans" font-weight="bold" font-size="11" fill="#222" letter-spacing="-0.5">-1</text>
<text x="460.21" y="1545" text-anchor="middle" font-family="Liberation Sans" font-weight="bold" font-size="11" fill="#222" letter-spacing="-0.5">-3.7</text>
<text x="460.21" y="1572" text-anchor="middle" font-family="Liberation Sans" font-weight="bold" font-size="11" fill="#222" letter-spacing="-0.5">-1.9</text>
<text x="497.93" y="1545" text-anchor="middle" font-family="Liberation Sans" font-weight="bold" font-size="11" fill="#222" letter-spacing="-0.5">-2.6</text>
<text x="497.93" y="1572" text-anchor="middle" font-family="Liberation Sans" font-weight="bold" font-size="11" fill="#222" letter-spacing="-0.5">2.3</text>
<text x="535.65" y="1545" text-anchor="middle" font-family="Liberation Sans" font-weight="bold" font-size="11" fill="#222" letter-spacing="-0.5">1.4</text>
<text x="535.65" y="1572" text-anchor="middle" font-family="Liberation Sans" font-weight="bold" font-size="11" fill="#222" letter-spacing="-0.5">4.5</text>
<text x="573.37" y="1545" text-anchor="middle" font-family="Liberation Sans" font-weight="bold" font-size="11" fill="#222" letter-spacing="-0.5">1.9</text>
<text x="573.37" y="1572" text-anchor="middle" font-family="Liberation Sans" font-weight="bold" font-size="11" fill="#222" letter-spacing="-0.5">8.3</text>
<text x="611.09" y="1545" text-anchor="middle" font-family="Liberation Sans" font-weight="bold" font-size="11" fill="#222" letter-spacing="-0.5">4.1</text>
<text x="611.09" y="1572" text-anchor="middle" font-family="Liberation Sans" font-weight="bold" font-size="11" fill="#222" letter-spacing="-0.5">5.8</text>
<text x="648.81" y="1545" text-anchor="middle" font-family="Liberation Sans" font-weight="bold" font-size="11" fill="#222" letter-spacing="-0.5">6.5</text>
<text x="648.81" y="1572" text-anchor="middle" font-family="Liberation Sans" font-weight="bold" font-size="11" fill="#222" letter-spacing="-0.5">7.3</text>
<text x="686.53" y="1545" text-anchor="middle" font-family="Liberation Sans" font-weight="bold" font-size="11" fill="#222" letter-spacing="-0.5">6.8</text>
<text x="686.53" y="1572" text-anchor="middle" font-family="Liberation Sans" font-weight="bold" font-size="11" fill="#222" letter-spacing="-0.5">7.9</text>
<text x="724.25" y="1545" text-anchor="middle" font-family="Liberation Sans" font-weight="bold" font-size="11" fill="#222" letter-spacing="-0.5">6.6</text>
<text x="724.25" y="1572" text-anchor="middle" font-family="Liberation Sans" font-weight="bold" font-size="11" fill="#222" letter-spacing="-0.5">8.1</text>
<text x="761.97" y="1545" text-anchor="middle" font-family="Liberation Sans" font-weight="bold" font-size="11" fill="#222" letter-spacing="-0.5">6.1</text>
<text x="761.97" y="1572" text-anchor="middle" font-family="Liberation Sans" font-weight="bold" font-size="11" fill="#222" letter-spacing="-0.5">8.5</text>
<text x="799.69" y="1545" text-anchor="middle" font-family="Liberation Sans" font-weight="bold" font-size="11" fill="#222" letter-spacing="-0.5">5.3</text>
<text x="799.69" y="1572" text-anchor="middle" font-family="Liberation Sans" font-weight="bold" font-size="11" fill="#222" letter-spacing="-0.5">7.8</text>
<text x="837.41" y="1545" text-anchor="middle" font-family="Liberation Sans" font-weight="bold" font-size="11" fill="#222" letter-spacing="-0.5">3.1</text>
<text x="837.41" y="1572" text-anchor="middle" font-family="Liberation Sans" font-weight="bold" font-size="11" fill="#222" letter-spacing="-0.5">0.9</text>
<text x="875.14" y="1545" text-anchor="middle" font-family="Liberation Sans" font-weight="bold" font-size="11" fill="#222" letter-spacing="-0.5">2.7</text>
<text x="875.14" y="1572" text-anchor="middle" font-family="Liberation Sans" font-weight="bold" font-size="11" fill="#222" letter-spacing="-0.5">-1</text>
<text x="912.86" y="1545" text-anchor="middle" font-family="Liberation Sans" font-weight="bold" font-size="11" fill="#222" letter-spacing="-0.5">2.2</text>
<text x="912.86" y="1572" text-anchor="middle" font-family="Liberation Sans" font-weight="bold" font-size="11" fill="#222" letter-spacing="-0.5">-1.8</text>
<text x="950.58" y="1545" text-anchor="middle" font-family="Liberation Sans" font-weight="bold" font-size="11" fill="#222" letter-spacing="-0.5">1.5</text>
<text x="950.58" y="1572" text-anchor="middle" font-family="Liberation Sans" font-weight="bold" font-size="11" fill="#222" letter-spacing="-0.5">-3.2</text>
<text x="988.3" y="1545" text-anchor="middle" font-family="Liberation Sans" font-weight="bold" font-size="11" fill="#222" letter-spacing="-0.5">0.9</text>
<text x="988.3" y="1572" text-anchor="middle" font-family="Liberation Sans" font-weight="bold" font-size="11" fill="#222" letter-spacing="-0.5">-3.9</text>
<text x="1026.02" y="1545" text-anchor="middle" font-family="Liberation Sans" font-weight="bold" font-size="11" fill="#222" letter-spacing="-0.5">0.8</text>
<text x="1026.02" y="1572" text-anchor="middle" font-family="Liberation Sans" font-weight="bold" font-size="11" fill="#222" letter-spacing="-0.5">-4.5</text>
<text x="1063.74" y="1545" text-anchor="middle" font-family="Liberation Sans" font-weight="bold" font-size="11" fill="#222" letter-spacing="-0.5">0.6</text>
<text x="1063.74" y="1572" text-anchor="middle" font-family="Liberation Sans" font-weight="bold" font-size="11" fill="#222" letter-spacing="-0.5">-3</text>
<line x1="104.4" y1="1537.1" x2="127.7" y2="1537.1" stroke="#56779e" stroke-width="3"/>
<line x1="104.4" y1="1564.4" x2="127.7" y2="1564.4" stroke="#8e3c4c" stroke-width="3"/>
<text x="130.6" y="1544.5" font-family="Liberation Sans" font-size="14" fill="#1a1a1a" stroke="#1a1a1a" stroke-width="0.3" textLength="43.2" lengthAdjust="spacingAndGlyphs">외기온도</text>
<text x="130.6" y="1570" font-family="Liberation Sans" font-size="14" fill="#1a1a1a" stroke="#1a1a1a" stroke-width="0.3" textLength="43.2" lengthAdjust="spacingAndGlyphs">단지계측</text>
<path d="M196.16,1467.08 C202.45,1467.39 221.31,1467.23 233.88,1468.98 C246.45,1470.73 259.03,1475.65 271.6,1477.56 C284.18,1479.47 296.75,1480.42 309.32,1480.42 C321.9,1480.42 334.47,1478.04 347.04,1477.56 C359.62,1477.08 372.19,1479.47 384.76,1477.56 C397.34,1475.65 409.91,1468.98 422.49,1466.12 C435.06,1463.26 447.63,1463.1 460.21,1460.4 C472.78,1457.7 485.35,1458.02 497.93,1449.92 C510.5,1441.81 523.07,1418.93 535.65,1411.78 C548.22,1404.63 560.8,1411.31 573.37,1407.02 C585.94,1402.73 598.52,1393.35 611.09,1386.04 C623.66,1378.74 636.24,1367.46 648.81,1363.17 C661.38,1358.88 673.96,1360.46 686.53,1360.31 C699.1,1360.15 711.68,1361.1 724.25,1362.21 C736.83,1363.32 749.4,1364.91 761.97,1366.98 C774.55,1369.04 787.12,1369.84 799.69,1374.61 C812.27,1379.37 824.84,1391.45 837.41,1395.58 C849.99,1399.71 862.56,1397.96 875.14,1399.39 C887.71,1400.82 900.28,1402.25 912.86,1404.16 C925.43,1406.06 938,1408.77 950.58,1410.83 C963.15,1412.9 975.72,1415.44 988.3,1416.55 C1000.87,1417.66 1013.45,1417.03 1026.02,1417.5 C1038.59,1417.98 1057.45,1419.09 1063.74,1419.41" fill="none" stroke="#4b6ea5" stroke-width="3.5"/>
<path d="M196.16,1469.94 C202.45,1470.73 221.31,1473.91 233.88,1474.7 C246.45,1475.5 259.03,1473.43 271.6,1474.7 C284.18,1475.97 296.75,1482.17 309.32,1482.33 C321.9,1482.49 334.47,1476.93 347.04,1475.65 C359.62,1474.38 372.19,1481.53 384.76,1474.7 C397.34,1467.87 409.91,1439.91 422.49,1434.66 C435.06,1429.42 447.63,1448.49 460.21,1443.24 C472.78,1438 485.35,1413.37 497.93,1403.2 C510.5,1393.04 523.07,1391.76 535.65,1382.23 C548.22,1372.7 560.8,1348.07 573.37,1346.01 C585.94,1343.94 598.52,1368.25 611.09,1369.84 C623.66,1371.43 636.24,1358.88 648.81,1355.54 C661.38,1352.2 673.96,1351.09 686.53,1349.82 C699.1,1348.55 711.68,1348.87 724.25,1347.91 C736.83,1346.96 749.4,1343.62 761.97,1344.1 C774.55,1344.58 787.12,1338.7 799.69,1350.77 C812.27,1362.85 824.84,1402.57 837.41,1416.55 C849.99,1430.53 862.56,1430.37 875.14,1434.66 C887.71,1438.95 900.28,1438.79 912.86,1442.29 C925.43,1445.78 938,1452.3 950.58,1455.64 C963.15,1458.97 975.72,1460.24 988.3,1462.31 C1000.87,1464.37 1013.45,1469.46 1026.02,1468.03 C1038.59,1466.6 1057.45,1456.11 1063.74,1453.73" fill="none" stroke="#8f3a47" stroke-width="3" stroke-dasharray="6 3"/>
<rect x="414" y="1404.5" width="94.5" height="23.3" fill="#cf2030"/>
<text x="461.2" y="1422.3" text-anchor="middle" font-family="Liberation Sans" font-size="16" fill="#fff" stroke="#fff" stroke-width="0.35" textLength="83" lengthAdjust="spacingAndGlyphs">자동제어 온도</text>
<rect x="431.5" y="1466.6" width="61.5" height="23.4" fill="#2f5da5"/>
<text x="462.2" y="1484.4" text-anchor="middle" font-family="Liberation Sans" font-size="16" fill="#fff" stroke="#fff" stroke-width="0.35" textLength="53" lengthAdjust="spacingAndGlyphs">정상온도</text>
</svg>
<div style="position:absolute;left:118px;top:1705.5px;width:1px;height:10.5px;background:#9a9a9a;"></div>
<svg style="position:absolute;left:140px;top:1690px" width="32" height="30">
<path d="M7,16.7 A8.5,8.5 0 1 1 24,16.7 Z" fill="#e2202e"/>
<rect x="4" y="17.7" width="23.6" height="1.8" fill="#e2202e"/>
<rect x="9" y="21.2" width="13" height="1.7" fill="#e2202e"/>
<rect x="12.4" y="23.6" width="6.3" height="1.8" fill="#e2202e"/>
</svg>
<svg style="position:absolute;left:0;top:0" width="200" height="1250">
<circle cx="91.4" cy="521.5" r="4.3" fill="#231f20"/>
<circle cx="91.4" cy="1102.5" r="4.3" fill="#231f20"/>
<rect x="104" y="944.2" width="9.6" height="2" fill="#231f20"/>
<rect x="104" y="997.2" width="9.6" height="2" fill="#231f20"/>
<rect x="104" y="1155.2" width="9.6" height="2" fill="#231f20"/>
<rect x="104" y="1208.2" width="9.6" height="2" fill="#231f20"/>
</svg>
<div class="a" id="t_hdr" style="left:78px;top:60.6px;font-family:'Liberation Sans',sans-serif;font-size:16.5px;font-weight:normal;color:#dcf7d4;letter-spacing:0px;word-spacing:0px;transform:scaleX(0.8417);transform-origin:0 0;">제<span style="margin:0 2px 0 3px">3</span>장 열사용시설 주요설비</div>
<div class="a" id="t_case" style="left:102.2px;top:170.45px;font-family:'Liberation Sans',sans-serif;font-size:23px;font-weight:bold;color:#f4fff0;letter-spacing:0px;word-spacing:0px;transform:scaleX(1.0244);transform-origin:0 0;-webkit-text-stroke:0.3px #f4fff0;">진단사례 7</div>
<div class="a" id="t_case2" style="left:264px;top:169.5px;font-family:'Liberation Sans',sans-serif;font-size:24px;font-weight:bold;color:#262324;letter-spacing:0px;word-spacing:0px;transform:scaleX(0.9594);transform-origin:0 0;">자동제어 외기보상운전 장애발생</div>
<div class="a" id="t_h1" style="left:96.8px;top:263.25px;font-family:'Liberation Sans',sans-serif;font-size:28.5px;font-weight:bold;color:#231f20;letter-spacing:0px;word-spacing:0px;transform:scaleX(0.8929);transform-origin:0 0;-webkit-text-stroke:0.6px #231f20;">운전상태</div>
<div class="a" id="t_p1" style="left:77.8px;top:318.7px;font-family:'Liberation Serif',serif;font-size:28px;font-weight:normal;color:#231f20;letter-spacing:1.85px;word-spacing:2px;transform:scaleX(0.8000);transform-origin:0 0;">과거 난방공급온도를 일정하게 공급하는 방식을 적용하고 있으나 합리적인 운전을 위해 외기보</div>
<div class="a" id="t_p2" style="left:77.8px;top:371.7px;font-family:'Liberation Serif',serif;font-size:28px;font-weight:normal;color:#231f20;letter-spacing:1.05px;word-spacing:4px;transform:scaleX(0.8000);transform-origin:0 0;">상 운전이 가능한지 설비시스템을 검토</div>
<div class="a" id="t_h2" style="left:96.2px;top:453.15px;font-family:'Liberation Sans',sans-serif;font-size:28.5px;font-weight:bold;color:#231f20;letter-spacing:0px;word-spacing:0px;transform:scaleX(0.8741);transform-origin:0 0;-webkit-text-stroke:0.6px #231f20;">동절기 운전실적</div>
<div class="a" id="t_b1" style="left:99.6px;top:508.55px;font-family:'Liberation Serif',serif;font-size:28px;font-weight:normal;color:#231f20;letter-spacing:1.83px;word-spacing:4px;transform:scaleX(0.8000);transform-origin:0 0;">동절기 운전실적</div>
<div class="a" id="t_l1" style="left:122.2px;top:925.7px;font-family:'Liberation Serif',serif;font-size:28px;font-weight:normal;color:#231f20;letter-spacing:0.63px;word-spacing:4px;transform:scaleX(0.8000);transform-origin:0 0;">일평균 외기온도는 최대 <span style="display:inline-block;width:36.88px"><span style="display:inline-block;font-size:29.5px;letter-spacing:0;transform:scaleX(1.2500);transform-origin:0 0">10</span></span><span style="font-size:19px;vertical-align:10.5px;margin-right:-3px">°</span>C 변화, 난방공급온도 <span style="display:inline-block;width:36.88px"><span style="display:inline-block;font-size:29.5px;letter-spacing:0;transform:scaleX(1.2500);transform-origin:0 0">50</span></span><span style="font-size:19px;vertical-align:10.5px;margin-right:-3px">°</span>C로 일정하게 유지</div>
<div class="a" id="t_l2" style="left:122.2px;top:979.05px;font-family:'Liberation Serif',serif;font-size:28px;font-weight:normal;color:#231f20;letter-spacing:0.92px;word-spacing:4px;transform:scaleX(0.8000);transform-origin:0 0;">세대 공급·회수 온도차는 <span style="display:inline-block;width:36.88px"><span style="display:inline-block;font-size:29.5px;letter-spacing:0;transform:scaleX(1.2500);transform-origin:0 0">18</span></span><span style="font-size:19px;vertical-align:10.5px;margin-right:-3px">°</span>C 정도를 유지하여 공급유량이 부족한 상태</div>
<div class="a" id="t_b2" style="left:101.2px;top:1087.05px;font-family:'Liberation Serif',serif;font-size:28px;font-weight:normal;color:#231f20;letter-spacing:0.86px;word-spacing:4px;transform:scaleX(0.8000);transform-origin:0 0;">외기온도 센서 상태시간대별 외기온도 계측값 비교(특정일 기준)</div>
<div class="a" id="t_l3" style="left:120.6px;top:1137.3px;font-family:'Liberation Serif',serif;font-size:28px;font-weight:normal;color:#231f20;letter-spacing:0.85px;word-spacing:4px;transform:scaleX(0.8000);transform-origin:0 0;">정상 외기온도와 자동제어 계측된 온도가 <span style="display:inline-block;width:117.56px"><span style="display:inline-block;font-size:29.5px;letter-spacing:0;transform:scaleX(1.2500);transform-origin:0 0">+2.~-12</span></span><span style="font-size:19px;vertical-align:10.5px;margin-right:-3px">°</span>C로 큰 차이 발생</div>
<div class="a" id="t_l4" style="left:120.6px;top:1194.5px;font-family:'Liberation Serif',serif;font-size:28px;font-weight:normal;color:#231f20;letter-spacing:1.05px;word-spacing:4px;transform:scaleX(0.8000);transform-origin:0 0;">외기온도센서 케이블 노후화 및 접촉불량으로 오차발생</div>
<div class="a" id="t_c2t" style="left:423.8px;top:1268px;font-family:'Liberation Sans',sans-serif;font-size:18px;font-weight:bold;color:#4fa84f;letter-spacing:0px;word-spacing:0px;transform:scaleX(0.9042);transform-origin:0 0;">시간대별 외기온도 계측값 비교(특정일 기준)</div>
<div class="a" id="t_pg" style="left:79px;top:1694.55px;font-family:'Liberation Sans',sans-serif;font-size:21.5px;font-weight:normal;color:#808083;letter-spacing:0px;word-spacing:0px;transform:scaleX(0.8877);transform-origin:0 0;">192</div>
<div class="a" id="t_logo" style="left:173px;top:1697.55px;font-family:'Liberation Sans',sans-serif;font-size:14px;font-weight:bold;color:#111111;letter-spacing:0px;word-spacing:0px;transform:scaleX(0.9712);transform-origin:0 0;">한국지역난방공사</div>
</body></html>
